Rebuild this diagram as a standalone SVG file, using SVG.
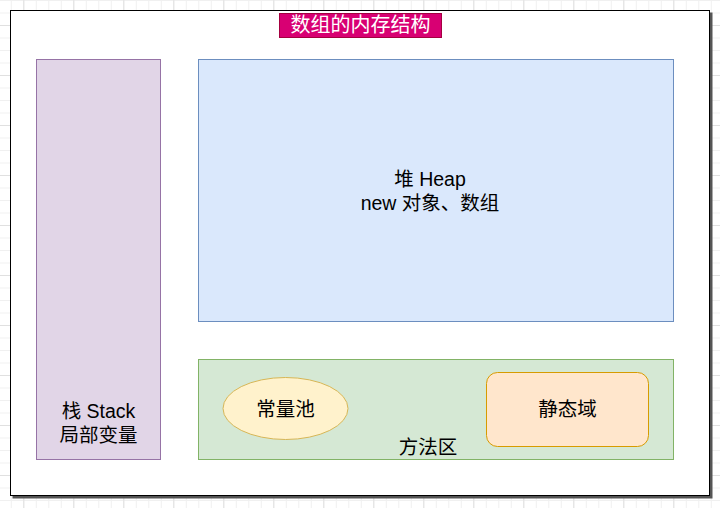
<svg xmlns="http://www.w3.org/2000/svg" width="720" height="508" viewBox="0 0 720 508">
<defs>
<pattern id="gminor" x="10.8" y="0" width="12.5" height="12.5" patternUnits="userSpaceOnUse">
<path d="M0 0.5H12.5M0.5 0V12.5" fill="none" stroke="#f0f0f0" stroke-width="1"/>
</pattern>
<pattern id="gmajor" x="23.3" y="25" width="50" height="50" patternUnits="userSpaceOnUse">
<path d="M0 0.5H50M0.5 0V50" fill="none" stroke="#e0e0e0" stroke-width="1"/>
</pattern>
</defs>
<style>
.t{font-family:"Liberation Sans","Noto Sans CJK SC",sans-serif;font-size:19.5px;fill:#000;text-anchor:middle}
.title{font-family:"Liberation Sans","Noto Sans CJK SC",sans-serif;font-size:20px;fill:#fff;text-anchor:middle}
</style>
<rect width="720" height="508" fill="#fff"/>
<rect width="720" height="508" fill="url(#gminor)"/>
<rect width="720" height="508" fill="url(#gmajor)"/>
<g id="frame">
<rect x="12.5" y="12.5" width="700" height="486" fill="#555"/>
<rect x="10.5" y="10.5" width="699" height="485" fill="#fff" stroke="#000" stroke-width="1"/>
</g>
<g id="title">
<rect x="279.5" y="13.5" width="162" height="24" fill="#d80073" stroke="#a50040"/>
<text class="title" x="360.5" y="32">数组的内存结构</text>
</g>
<g id="stack">
<rect x="36.5" y="59.5" width="124" height="400" fill="#e1d5e7" stroke="#9673a6"/>
<text class="t" x="98.5" y="418">栈 Stack</text>
<text class="t" x="98.5" y="442">局部变量</text>
</g>
<g id="heap">
<rect x="198.5" y="59.5" width="475" height="262" fill="#dae8fc" stroke="#6c8ebf"/>
<text class="t" x="430" y="186">堆 Heap</text>
<text class="t" x="430" y="210">new 对象、数组</text>
</g>
<g id="method-area">
<rect x="198.5" y="359.5" width="475" height="100" fill="#d5e8d4" stroke="#82b366"/>
<text class="t" x="428" y="454">方法区</text>
</g>
<g id="constant-pool">
<ellipse cx="285.5" cy="408.5" rx="62.5" ry="31" fill="#fff2cc" stroke="#d6b656"/>
<text class="t" x="285.5" y="415.5">常量池</text>
</g>
<g id="static-area">
<rect x="486.5" y="372.5" width="162" height="74" rx="11" fill="#ffe6cc" stroke="#d79b00"/>
<text class="t" x="567.5" y="415.5">静态域</text>
</g>
<g id="connectors"></g>
</svg>
